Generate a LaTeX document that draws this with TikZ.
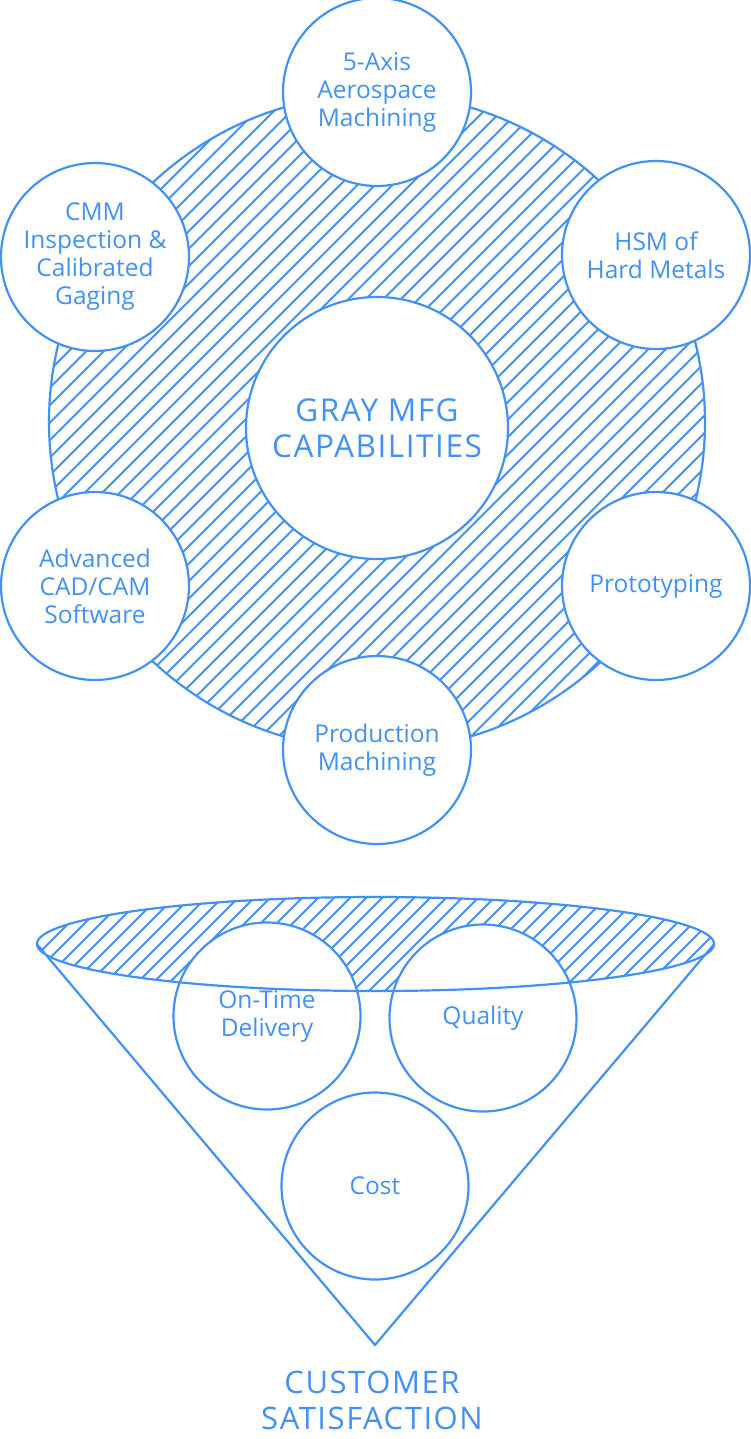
\documentclass[tikz,border=0pt]{standalone}
\usepackage{fontspec}
\setmainfont{Open Sans}
\usetikzlibrary{shapes.geometric}
\definecolor{gb}{HTML}{4291F5}
\tikzset{
  outline/.style={draw=gb, line width=2.2pt},
  hatchline/.style={draw=gb, line width=2pt},
  sat/.style={outline, circle, fill=white, minimum size=188pt, inner sep=0pt, align=center, text=gb,
    font=\fontsize{24.5}{28}\selectfont},
  hub/.style={outline, circle, fill=white, minimum size=262pt, inner sep=0pt, align=center, text=gb,
    font=\fontsize{31.5}{36}\selectfont\addfontfeature{LetterSpace=5}},
  title/.style={align=center, text=gb, font=\fontsize{31}{36}\selectfont\addfontfeature{LetterSpace=5}}
}
\begin{document}
\begin{tikzpicture}[x=1pt,y=-1pt]
\useasboundingbox (0,0) rectangle (750,1439);
% big hatched circle
\begin{scope}
  \clip (377,422) circle[radius=328pt];
  \foreach \c in {0,17.5,...,1500} {\draw[hatchline] (\c,0) -- (\c-900,900);}
\end{scope}
\node[outline, circle, minimum size=656pt, inner sep=0pt] (big) at (377,422) {};
\node[hub] (hubnode) at (377,428) {GRAY MFG\\CAPABILITIES};
\node[sat] (axis) at (377,92) {5-Axis\\Aerospace\\Machining};
\node[sat] (hsm) at (656,255) {HSM of\\Hard Metals};
\node[sat] (proto) at (656,586) {Prototyping};
\node[sat] (prod) at (377,750) {Production\\Machining};
\node[sat] (cad) at (95,586) {Advanced\\CAD/CAM\\Software};
\node[sat] (cmm) at (95,257) {CMM\\Inspection \&\\Calibrated\\Gaging};
% funnel
\begin{scope}
  \clip (375.5,944) ellipse[x radius=338.5pt, y radius=47pt];
  \foreach \c in {0,16,...,1000} {\draw[hatchline] (\c,800) -- (\c-200,1000);}
\end{scope}
\node[ellipse, minimum width=677pt, minimum height=94pt, inner sep=0pt] (funnel) at (375.5,944) {};
\coordinate (apex) at (375,1345);
\draw[outline, line join=round] (funnel.west) -- (apex) -- (funnel.east);
\node[sat, minimum size=187pt] (ontime) at (267,1016) {On-Time\\Delivery};
\node[sat, minimum size=187pt] (quality) at (483,1018) {Quality};
\node[sat, minimum size=187pt] (cost) at (375,1186) {Cost};
\draw[outline] (375.5,944) ellipse[x radius=338.5pt, y radius=47pt];
\node[title] (cs) at (372,1400) {CUSTOMER\\SATISFACTION};
\end{tikzpicture}
\end{document}
